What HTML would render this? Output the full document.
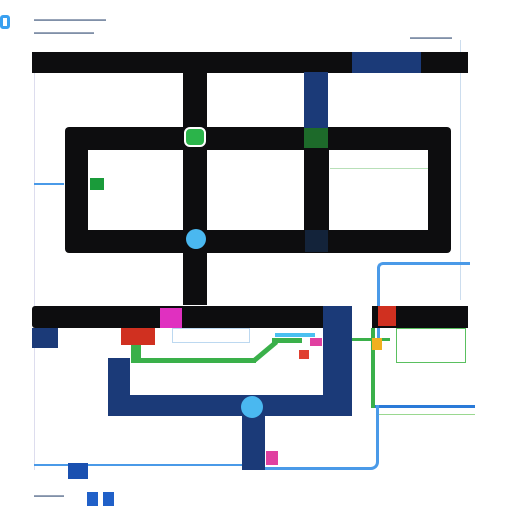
<!DOCTYPE html>
<html><head><meta charset="utf-8"><style>
body{margin:0;width:512px;height:512px;background:#fff;position:relative;overflow:hidden;font-family:"Liberation Sans",sans-serif}
div{position:absolute;box-sizing:border-box}
.k{background:#0d0d0f}.n{background:#1b3a78}.t{color:#8090a8;font-size:6px;white-space:nowrap}
.g{background:#1a9b3a}.b{background:#3a8ee8}
</style></head><body>
<div style="left:0;top:15px;width:10px;height:14px;border:3px solid #3aa0f0;border-radius:3px"></div>
<div class="t" style="left:34px;top:17px">▬▬▬▬▬▬▬▬▬▬▬▬</div>
<div class="t" style="left:34px;top:30px">▬▬▬▬▬▬▬▬▬▬</div>
<div class="t" style="left:410px;top:35px">▬▬▬▬▬▬▬</div>
<div style="left:460px;top:40px;width:1px;height:260px;background:#cde"></div>
<div style="left:34px;top:70px;width:1px;height:400px;background:#dde"></div>
<div class="k" style="left:32px;top:52px;width:436px;height:21px"></div>
<div class="n" style="left:352px;top:52px;width:69px;height:21px"></div>
<div class="k" style="left:65px;top:127px;width:386px;height:126px;border-radius:4px"></div>
<div style="left:88px;top:150px;width:95px;height:80px;background:#fff"></div>
<div style="left:207px;top:150px;width:97px;height:80px;background:#fff"></div>
<div style="left:329px;top:150px;width:99px;height:80px;background:#fff"></div>
<div class="k" style="left:183px;top:52px;width:24px;height:253px"></div>
<div class="n" style="left:304px;top:72px;width:24px;height:56px"></div>
<div class="g" style="left:304px;top:128px;width:24px;height:20px;background:#1d6a2a"></div>
<div class="n" style="left:305px;top:230px;width:23px;height:22px;background:#13233a"></div>
<div class="g" style="left:184px;top:127px;width:22px;height:20px;border-radius:6px;border:2px solid #fff;background:#2bb44a"></div>
<div class="b" style="left:186px;top:229px;width:20px;height:20px;border-radius:10px;background:#4ab8f0"></div>
<div class="g" style="left:90px;top:178px;width:14px;height:12px"></div>
<div style="left:330px;top:168px;width:98px;height:1px;background:#b8e0b8"></div>
<div style="left:34px;top:183px;width:30px;height:2px;background:#4a9ae8"></div>
<div style="left:377px;top:262px;width:93px;height:80px;border-left:3px solid #4a9ae8;border-top:3px solid #4a9ae8;border-top-left-radius:6px"></div>
<div class="k" style="left:32px;top:306px;width:320px;height:22px;border-radius:3px"></div>
<div class="n" style="left:32px;top:328px;width:26px;height:20px"></div>
<div class="n" style="left:323px;top:306px;width:29px;height:110px;border-bottom-right-radius:8px"></div>
<div class="n" style="left:108px;top:358px;width:22px;height:58px"></div>
<div class="n" style="left:108px;top:395px;width:244px;height:21px"></div>
<div style="left:172px;top:328px;width:78px;height:15px;border:1px solid #bcd8f0"></div>
<div style="left:131px;top:345px;width:10px;height:18px;background:#3ab04a"></div>
<div style="left:131px;top:358px;width:125px;height:5px;background:#3ab04a"></div>
<div style="left:250px;top:349px;width:30px;height:5px;background:#3ab04a;transform:rotate(-40deg)"></div>
<div style="left:272px;top:338px;width:30px;height:5px;background:#3ab04a"></div>
<div style="left:275px;top:333px;width:40px;height:4px;background:#4ac0f0"></div>
<div style="left:121px;top:328px;width:34px;height:17px;background:#d03020"></div>
<div style="left:299px;top:350px;width:10px;height:9px;background:#e04030"></div>
<div style="left:310px;top:338px;width:12px;height:8px;background:#e040a0"></div>
<div style="left:160px;top:308px;width:22px;height:20px;background:#e030c0"></div>
<div class="k" style="left:372px;top:306px;width:96px;height:22px"></div>
<div style="left:378px;top:306px;width:18px;height:20px;background:#d03020"></div>
<div style="left:396px;top:328px;width:70px;height:35px;border:1px solid #5ac060;background:#fff"></div>
<div style="left:352px;top:338px;width:38px;height:3px;background:#3ab04a"></div>
<div style="left:371px;top:328px;width:4px;height:80px;background:#3ab04a"></div>
<div style="left:372px;top:338px;width:10px;height:12px;background:#f0b020"></div>
<div style="left:375px;top:405px;width:100px;height:3px;background:#2a7ad8"></div>
<div style="left:378px;top:414px;width:97px;height:1px;background:#9ad890"></div>
<div style="left:265px;top:405px;width:114px;height:65px;border-right:3px solid #4a9ae8;border-bottom:3px solid #4a9ae8;border-bottom-right-radius:8px"></div>
<div class="n" style="left:242px;top:415px;width:23px;height:55px;background:#1b3a78"></div>
<div class="b" style="left:241px;top:396px;width:22px;height:22px;border-radius:11px;background:#4ab8f0"></div>
<div style="left:266px;top:451px;width:12px;height:14px;background:#e040a0"></div>
<div style="left:34px;top:464px;width:208px;height:2px;background:#4a9ae8"></div>
<div class="n" style="left:68px;top:463px;width:20px;height:16px;background:#1a50b0"></div>
<div class="t" style="left:34px;top:493px">▬▬▬▬▬</div>
<div style="left:87px;top:492px;width:11px;height:14px;background:#2060c8"></div>
<div style="left:103px;top:492px;width:11px;height:14px;background:#2060c8"></div>
</body></html>
